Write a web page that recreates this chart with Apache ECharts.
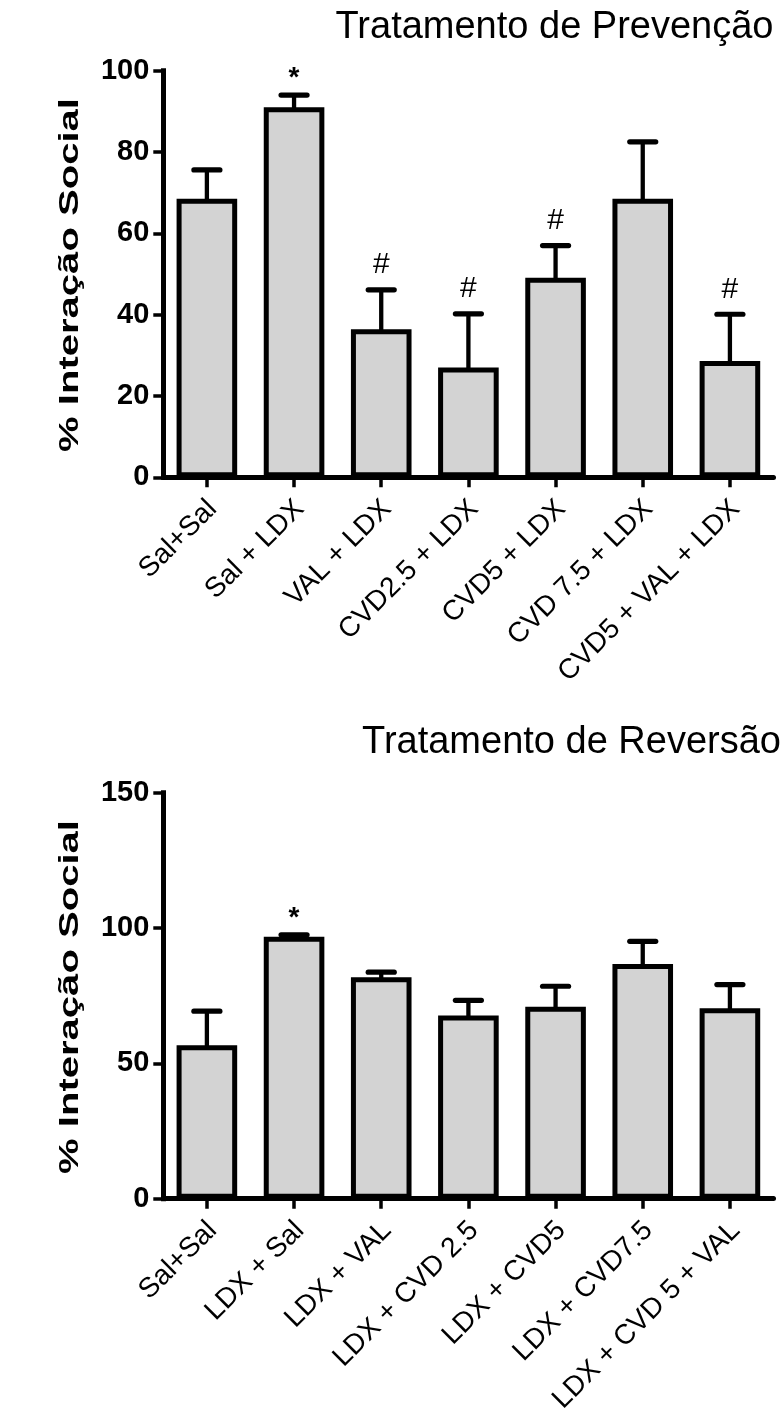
<!DOCTYPE html>
<html>
<head>
<meta charset="utf-8">
<script src="https://cdn.jsdelivr.net/npm/echarts@6/dist/echarts.min.js"></script>
<style>html,body{margin:0;padding:0;background:#fff}#c{width:784px;height:1418px}</style>
</head>
<body>
<div id="c"></div>
<script>
// ---- data ----
const titleTop = 'Tratamento de Prevenção';
const titleBottom = 'Tratamento de Reversão';
const yName = '% Interação Social';

const catsTop = ['Sal+Sal', 'Sal + LDX', 'VAL + LDX', 'CVD2.5 + LDX', 'CVD5 + LDX', 'CVD 7.5 + LDX', 'CVD5 + VAL + LDX'];
const meanTop = [68.5, 91.0, 36.4, 27.0, 49.1, 68.5, 28.6];
const semTop = [7.1, 3.0, 9.7, 13.2, 7.9, 14.0, 11.5];
const marksTop = ['', '*', '#', '#', '#', '', '#'];
const yTicksTop = [0, 20, 40, 60, 80, 100];

const catsBottom = ['Sal+Sal', 'LDX + Sal', 'LDX + VAL', 'LDX + CVD 2.5', 'LDX + CVD5', 'LDX + CVD7.5', 'LDX + CVD 5 + VAL'];
const meanBottom = [56.7, 96.8, 81.8, 67.7, 70.9, 86.7, 70.4];
const semBottom = [12.6, 0.7, 1.9, 5.6, 7.6, 8.4, 8.7];
const marksBottom = ['', '*', '', '', '', '', ''];
const yTicksBottom = [0, 50, 100, 150];

// ---- styling ----
const FONT = '"Liberation Sans", Arial, Helvetica, sans-serif';
const BLACK = '#000';
const chart = echarts.init(document.getElementById('c'), null, {renderer: 'canvas'});

function xAxisCfg(cats, gridIndex) {
  return {
    type: 'category', gridIndex: gridIndex, data: cats,
    axisLine: {show: true, lineStyle: {color: BLACK, width: 5}},
    axisTick: {show: true, alignWithLabel: true, length: 10, lineStyle: {color: BLACK, width: 3.5}},
    axisLabel: {
      interval: 0, rotate: 45, margin: 33, color: BLACK,
      fontSize: 28, fontFamily: FONT, padding: [16, -8, 0, 0]
    },
    splitLine: {show: false}
  };
}
function yAxisCfg(ticks, gridIndex) {
  return {
    type: 'value', gridIndex: gridIndex,
    min: ticks[0], max: ticks[ticks.length - 1], interval: ticks[1] - ticks[0],
    axisLine: {show: true, lineStyle: {color: BLACK, width: 5, cap: 'square'}},
    axisTick: {show: true, length: 10, lineStyle: {color: BLACK, width: 3.5}},
    axisLabel: {color: BLACK, fontSize: 29, fontWeight: 'bold', fontFamily: FONT, margin: 14},
    splitLine: {show: false}
  };
}

function barSeries(values, idx) {
  return {
    type: 'bar', xAxisIndex: idx, yAxisIndex: idx,
    data: values, barWidth: 60.6, z: 3,
    itemStyle: {color: '#d3d3d3', borderColor: BLACK, borderWidth: 5},
    silent: true
  };
}
function errSeries(means, sems, marks, idx) {
  return {
    type: 'custom', xAxisIndex: idx, yAxisIndex: idx, z: 2, silent: true,
    data: means.map((m, i) => [i, m, sems[i]]),
    renderItem: function (params, api) {
      const i = api.value(0);
      const m = api.value(1);
      const s = api.value(2);
      const mark = marks[params.dataIndex];
      const base = api.coord([i, m]);
      const top = api.coord([i, m + s]);
      const half = 13;
      const children = [
        {type: 'line', shape: {x1: base[0], y1: base[1] + 3, x2: top[0], y2: top[1]},
         style: {stroke: BLACK, lineWidth: 4.3}},
        {type: 'line', shape: {x1: top[0] - half, y1: top[1], x2: top[0] + half, y2: top[1]},
         style: {stroke: BLACK, lineWidth: 5.2, lineCap: 'round'}}
      ];
      if (mark) {
        const star = mark === '*';
        children.push({
          type: 'text', z2: 10,
          style: {
            text: mark, x: top[0], y: top[1] - (star ? 17 : 25),
            align: 'center', verticalAlign: 'middle',
            fill: BLACK, fontSize: star ? 28 : 30,
            fontWeight: star ? 'bold' : 'normal', fontFamily: FONT
          }
        });
      }
      return {type: 'group', children: children};
    }
  };
}

function yNameGraphic(cy) {
  return {
    type: 'text', x: 70, y: cy, rotation: Math.PI / 2, scaleX: 1.43, scaleY: 1,
    style: {text: yName, align: 'center', verticalAlign: 'middle', fill: BLACK,
            fontSize: 28, fontWeight: 'bold', fontFamily: FONT}
  };
}

const option = {
  backgroundColor: '#fff',
  animation: false,
  grid: [
    {left: 163.3, right: 10.5, top: 70.7, height: 406.6},
    {left: 163.3, right: 10.5, top: 792.7, height: 406.0}
  ],
  xAxis: [xAxisCfg(catsTop, 0), xAxisCfg(catsBottom, 1)],
  yAxis: [yAxisCfg(yTicksTop, 0), yAxisCfg(yTicksBottom, 1)],
  series: [
    errSeries(meanTop, semTop, marksTop, 0),
    barSeries(meanTop, 0),
    errSeries(meanBottom, semBottom, marksBottom, 1),
    barSeries(meanBottom, 1)
  ],
  graphic: [
    {type: 'text', x: 773.5, y: 27.5, style: {text: titleTop, align: 'right', verticalAlign: 'middle',
      fill: BLACK, fontSize: 38, fontFamily: FONT}},
    {type: 'text', x: 781, y: 742.5, style: {text: titleBottom, align: 'right', verticalAlign: 'middle',
      fill: BLACK, fontSize: 38, fontFamily: FONT}},
    yNameGraphic(275),
    yNameGraphic(997)
  ]
};
chart.setOption(option);
</script>
</body>
</html>
